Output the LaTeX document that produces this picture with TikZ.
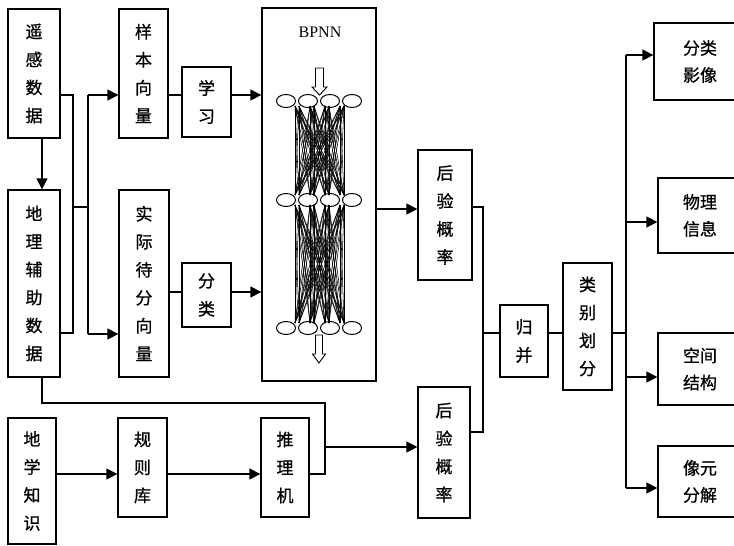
\documentclass[tikz,border=0pt]{standalone}
\usepackage{fontspec}
\newfontfamily\cjk[FakeBold=0.8]{Noto Sans CJK SC}
\newfontfamily\tms{Liberation Serif}
\usetikzlibrary{arrows.meta,shapes.geometric}
\begin{document}
\begin{tikzpicture}[x=1pt,y=-1pt,
  box/.style={draw, line width=1.3pt, inner sep=0pt, align=center, font=\cjk\fontsize{17}{28}\selectfont},
  box2/.style={box, font=\cjk\fontsize{17}{27}\selectfont},
  ln/.style={line width=1.3pt},
  arr/.style={line width=1.3pt, -{Triangle[length=11pt,width=11pt]}},
  neuron/.style={draw, ellipse, line width=1pt, minimum width=19pt, minimum height=13pt, inner sep=0pt},
  mesh/.style={line width=0.55pt},
  hollow/.style={draw, line width=0.9pt, fill=white},
]
\clip (0,0) rectangle (734,546);
\fill[white] (0,0) rectangle (734,546);

% boxes
\node[box, minimum width=52pt, minimum height=129pt] (rs) at (34,73.5) {遥\\感\\数\\据};
\node[box, minimum width=52pt, minimum height=187pt] (geo) at (34,283.5) {地\\理\\辅\\助\\数\\据};
\node[box, minimum width=49pt, minimum height=129pt] (samp) at (143.5,73.5) {样\\本\\向\\量};
\node[box, minimum width=49pt, minimum height=70pt] (learn) at (206.5,102) {学\\习};
\node[box, minimum width=50pt, minimum height=187pt] (act) at (144,283.5) {实\\际\\待\\分\\向\\量};
\node[box, minimum width=49pt, minimum height=64pt] (cls) at (206.5,295) {分\\类};
\node[box, minimum width=114pt, minimum height=373pt] (bpnn) at (319,194.5) {};
\node[font=\tms\fontsize{16}{18}\selectfont, inner sep=0pt] (bpnnlabel) at (320,32) {BPNN};
\node[box, minimum width=54pt, minimum height=130pt] (post1) at (445,215) {后\\验\\概\\率};
\node[box, minimum width=48pt, minimum height=72pt] (merge) at (524,341) {归\\并};
\node[box, minimum width=49pt, minimum height=127pt] (divide) at (587.5,326.5) {类\\别\\划\\分};
\node[box, minimum width=52pt, minimum height=131pt] (post2) at (444,452.5) {后\\验\\概\\率};
\node[box, minimum width=48pt, minimum height=126pt] (know) at (32,481) {地\\学\\知\\识};
\node[box, minimum width=49pt, minimum height=99pt] (rules) at (142.5,467.5) {规\\则\\库};
\node[box, minimum width=48pt, minimum height=99pt] (infer) at (285,467.5) {推\\理\\机};
\node[box2, minimum width=92pt, minimum height=77pt] (out1) at (700,61.5) {分类\\影像};
\node[box2, minimum width=84pt, minimum height=75pt] (out2) at (700,215.5) {物理\\信息};
\node[box2, minimum width=84pt, minimum height=72pt] (out3) at (700,369) {空间\\结构};
\node[box2, minimum width=84pt, minimum height=71pt] (out4) at (700,481.5) {像元\\分解};

% neural network inside BPNN
\foreach \a in {295,299,310,314,325,329,340,344}{
  \foreach \b in {295,299,310,314,325,329,340,344}{
    \draw[mesh] (\a,106) -- (\b,195);
    \draw[mesh] (\a,205) -- (\b,323);
  }
}
\foreach \c [count=\i] in {286,308,330,352}{
  \node[neuron] (na\i) at (\c,101) {};
  \node[neuron] (nb\i) at (\c,200) {};
  \node[neuron] (nc\i) at (\c,328) {};
}
\draw[hollow] (315.5,68) -- (323.5,68) -- (323.5,87) -- (327,87) -- (319.5,95) -- (312,87) -- (315.5,87) -- cycle;
\draw[hollow] (315.5,335) -- (322.5,335) -- (322.5,354) -- (325.5,354) -- (319,363) -- (312.5,354) -- (315.5,354) -- cycle;

% helper coordinates
\coordinate (b1) at (73,95);
\coordinate (b2) at (73,333);
\coordinate (c1) at (73,207);
\coordinate (c2) at (88,207);
\coordinate (c3) at (88,95);
\coordinate (c4) at (88,334);
\coordinate (d1) at (0,292);
\coordinate (e1) at (0,209);
\coordinate (m1) at (483,207);
\coordinate (m2) at (483,432);
\coordinate (m3) at (483,333);
\coordinate (r0) at (626,333);
\coordinate (rt) at (626,55);
\coordinate (rb) at (626,488);
\coordinate (r2) at (626,222);
\coordinate (r3) at (626,377);
\coordinate (g1) at (42,403);
\coordinate (g2) at (325,403);
\coordinate (g3) at (325,474);
\coordinate (g4) at (325,447);

% connectors
\draw[arr] ([xshift=8pt]rs.south) -- ([xshift=8pt]geo.north);
\draw[ln] (rs.east |- b1) -- (b1) -- (b2) -- (geo.east |- b2);
\draw[ln] (c1) -- (c2);
\draw[ln] (c3) -- (c4);
\draw[arr] (c3) -- (samp.west |- c3);
\draw[arr] (c4) -- (act.west |- c4);
\draw[ln] (samp.east |- c3) -- (learn.west |- c3);
\draw[arr] (learn.east |- c3) -- (bpnn.west |- c3);
\draw[ln] (act.east |- d1) -- (cls.west |- d1);
\draw[arr] (cls.east |- d1) -- (bpnn.west |- d1);
\draw[arr] (bpnn.east |- e1) -- (post1.west |- e1);
\draw[ln] (post1.east |- m1) -- (m1) -- (m2) -- (post2.east |- m2);
\draw[ln] (m3) -- (merge.west |- m3);
\draw[ln] (merge.east |- m3) -- (divide.west |- m3);
\draw[ln] (divide.east |- r0) -- (r0);
\draw[ln] (rt) -- (rb);
\draw[arr] (rt) -- (out1.west |- rt);
\draw[arr] (r2) -- (out2.west |- r2);
\draw[arr] (r3) -- (out3.west |- r3);
\draw[arr] (rb) -- (out4.west |- rb);
\draw[ln] ([xshift=8pt]geo.south) -- (g1) -- (g2) -- (g3) -- (infer.east |- g3);
\draw[arr] (g4) -- (post2.west |- g4);
\draw[arr] (know.east |- g3) -- (rules.west |- g3);
\draw[arr] (rules.east |- g3) -- (infer.west |- g3);
\end{tikzpicture}
\end{document}
